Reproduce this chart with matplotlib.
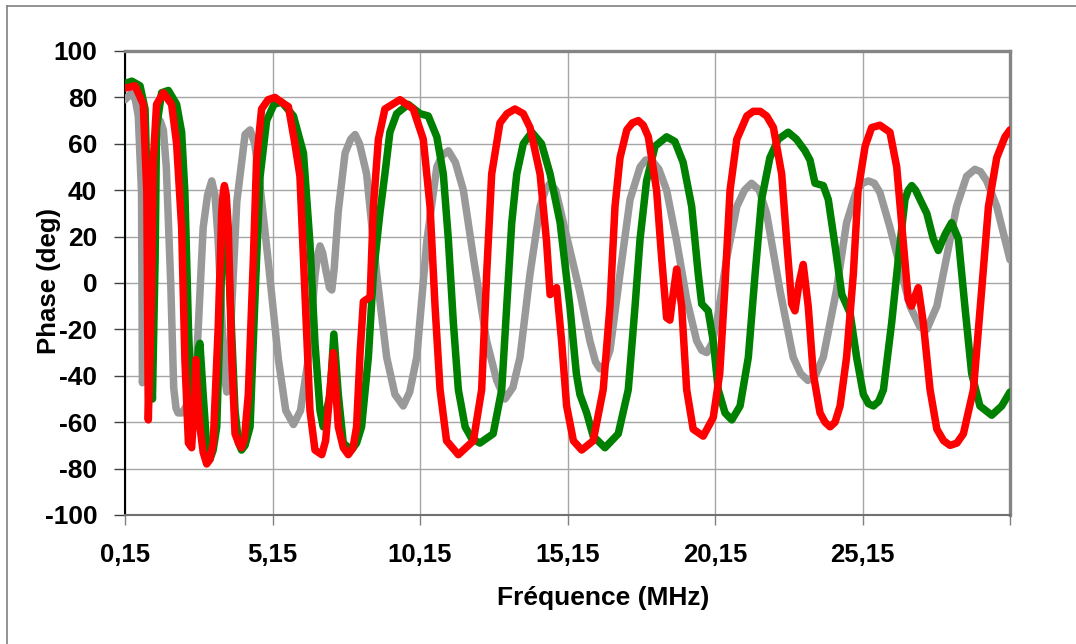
import matplotlib
matplotlib.use("Agg")
import matplotlib.pyplot as plt
from matplotlib.lines import Line2D

# ---- data ----
grey_x = [0.15, 0.38, 0.50, 0.60, 0.71, 0.74, 0.90, 1.10, 1.22, 1.34, 1.45, 1.55, 1.70, 1.80, 1.88,
          1.95, 2.10, 2.35, 2.58, 2.80, 2.95, 3.09, 3.20, 3.30, 3.45, 3.52, 3.60, 3.68, 3.75, 3.94,
          4.22, 4.39, 4.55, 4.70, 5.00, 5.35, 5.60, 5.86, 6.10, 6.36, 6.59, 6.68, 6.76, 6.85, 6.95,
          7.08, 7.16, 7.24, 7.38, 7.61, 7.80, 7.95, 8.10, 8.34, 8.68, 9.02, 9.30, 9.58, 9.80, 10.04,
          10.38, 10.72, 10.90, 11.11, 11.35, 11.62, 11.96, 12.41, 12.75, 13.03, 13.30, 13.54, 13.88,
          14.22, 14.40, 14.56, 14.75, 15.01, 15.57, 15.91, 16.10, 16.25, 16.42, 16.59, 16.93, 17.27,
          17.61, 17.80, 18.00, 18.25, 18.51, 18.85, 19.19, 19.53, 19.70, 19.87, 20.05, 20.21, 20.55,
          20.89, 21.15, 21.39, 21.65, 21.90, 22.35, 22.80, 23.05, 23.30, 23.55, 23.82, 24.27, 24.61,
          24.95, 25.15, 25.35, 25.55, 25.74, 26.08, 26.42, 26.76, 27.10, 27.33, 27.67, 28.00, 28.34,
          28.68, 28.96, 29.15, 29.36, 29.70, 30.15]
grey_y = [79, 82, 79, 72, 39, -43, -20, 40, 66, 70, 66, 50, 0, -45, -54,
          -56, -56, -50, -33, 24, 38, 44, 38, 20, -20, -40, -47, -40, -15, 35,
          64, 66, 60, 45, 10, -33, -55, -61, -55, -33, 3, 12, 16, 13, 6,
          -2, -3, 6, 31, 56, 62, 64, 60, 47, 4, -32, -48, -53, -47, -32,
          18, 50, 55, 57, 52, 40, 11, -25, -42, -50, -45, -32, 4,
          33, 40, 43, 40, 26, -4, -25, -34, -37, -35, -29, 4, 36,
          50, 53, 53, 49, 40, 18, -7, -25, -29, -30, -26, -17, 11,
          33, 40, 43, 40, 30, -3, -32, -39, -42, -40, -32, -3, 26,
          40, 43, 44, 43, 39, 24, 7, -10, -19, -20, -10, 11, 33,
          46, 49, 48, 44, 33, 10]

green_x = [0.15, 0.38, 0.66, 0.83, 0.94, 1.01, 1.08, 1.17, 1.22, 1.39, 1.62, 1.90, 2.07, 2.18, 2.30,
           2.43, 2.56, 2.64, 2.69, 2.80, 2.92, 3.03, 3.14, 3.26, 3.40, 3.48, 3.53, 3.60, 3.71, 3.88,
           4.00, 4.10, 4.22, 4.39, 4.56, 4.73, 4.95, 5.20, 5.46, 5.86, 6.20, 6.42, 6.59, 6.76, 6.87,
           7.10, 7.23, 7.38, 7.55, 7.83, 8.00, 8.17, 8.40, 8.57, 8.79, 8.96, 9.13, 9.36, 9.75, 10.15,
           10.43, 10.72, 10.94, 11.11, 11.28, 11.45, 11.68, 11.90, 12.18, 12.63, 12.92, 13.09, 13.26,
           13.43, 13.65, 13.94, 14.27, 14.56, 14.90, 15.23, 15.45, 15.57, 15.80, 16.02, 16.42, 16.87,
           17.21, 17.44, 17.61, 17.83, 18.12, 18.51, 18.79, 19.07, 19.36, 19.58, 19.70, 19.92, 20.09,
           20.26, 20.49, 20.72, 21.00, 21.28, 21.51, 21.73, 22.01, 22.30, 22.63, 22.91, 23.20, 23.37,
           23.54, 23.82, 23.99, 24.22, 24.45, 24.73, 24.95, 25.18, 25.35, 25.52, 25.70, 25.86, 26.14,
           26.37, 26.59, 26.70, 26.82, 26.95, 27.10, 27.33, 27.55, 27.72, 27.95, 28.17, 28.40, 28.62,
           28.85, 29.13, 29.53, 29.87, 30.15]
green_y = [86, 87, 85, 75, 24, -30, -50, 10, 67, 82, 83, 77, 65, 39, -19,
           -62, -45, -28, -26, -48, -70, -76, -72, -62, -5, 31, 39, 25, -5, -55,
           -69, -72, -70, -62, -5, 46, 70, 77, 78, 72, 56, 17, -26, -55, -62,
           -48, -22, -48, -69, -72, -69, -62, -32, 4, 30, 47, 65, 73, 77, 73,
           72, 63, 47, 19, -17, -46, -62, -67, -69, -65, -46, -10, 26,
           47, 60, 65, 60, 47, 26, -10, -39, -48, -56, -66, -71, -65,
           -46, -10, 19, 44, 59, 63, 61, 52, 33, 4, -9, -12, -25,
           -46, -56, -59, -53, -32, 4, 36, 54, 62, 65, 62, 57, 53,
           43, 42, 36, 16, -5, -13, -32, -48, -52, -53, -51, -46, -17,
           11, 36, 40, 42, 40, 36, 30, 19, 14, 21, 26, 19, -10,
           -39, -53, -57, -53, -47]

red_x = [0.15, 0.49, 0.77, 0.89, 0.94, 1.00, 1.05, 1.11, 1.22, 1.45, 1.73, 1.90, 2.07, 2.18, 2.30,
         2.41, 2.48, 2.55, 2.62, 2.69, 2.80, 2.92, 3.03, 3.14, 3.31, 3.43, 3.48, 3.52, 3.58, 3.65,
         3.77, 3.88, 4.00, 4.10, 4.20, 4.33, 4.50, 4.61, 4.78, 5.00, 5.23, 5.45, 5.69, 5.91, 6.08,
         6.25, 6.42, 6.59, 6.82, 6.95, 7.04, 7.21, 7.38, 7.55, 7.72, 7.88, 8.00, 8.12, 8.23, 8.46,
         8.57, 8.74, 8.96, 9.47, 9.92, 10.26, 10.49, 10.66, 10.83, 11.05, 11.45, 11.96, 12.24, 12.41,
         12.58, 12.86, 13.10, 13.37, 13.65, 13.88, 14.22, 14.44, 14.56, 14.78, 14.95, 15.12, 15.35,
         15.63, 16.02, 16.36, 16.59, 16.76, 16.93, 17.16, 17.35, 17.55, 17.72, 17.89, 18.17, 18.34,
         18.51, 18.62, 18.73, 18.85, 19.02, 19.19, 19.41, 19.75, 20.09, 20.31, 20.48, 20.66, 20.89,
         21.23, 21.45, 21.68, 21.90, 22.13, 22.41, 22.58, 22.75, 22.86, 23.00, 23.14, 23.31, 23.48,
         23.71, 23.88, 24.05, 24.22, 24.39, 24.61, 24.84, 25.00, 25.24, 25.46, 25.74, 26.08, 26.31,
         26.53, 26.70, 26.81, 26.92, 27.04, 27.21, 27.44, 27.67, 27.90, 28.12, 28.35, 28.57, 28.91,
         29.19, 29.42, 29.70, 29.98, 30.15]
red_y = [84, 85, 77, 39, -59, -30, -5, 53, 77, 82, 77, 60, 24, -33, -69,
         -71, -55, -33, -50, -62, -73, -78, -76, -69, -19, 31, 39, 42, 38, 24,
         -33, -65, -69, -71, -67, -48, 10, 53, 75, 79, 80, 78, 76, 60, 46,
         -5, -55, -72, -74, -68, -55, -30, -62, -71, -74, -71, -62, -30, -8, -6,
         33, 62, 75, 79, 75, 62, 33, -10, -46, -68, -74, -68, -46, 4,
         47, 69, 73, 75, 73, 67, 47, 18, -5, -2, -25, -53, -68,
         -72, -68, -46, -10, 33, 54, 66, 69, 70, 68, 63, 40, 11,
         -15, -16, -5, 6, -10, -46, -63, -66, -58, -39, -3, 40, 62,
         72, 74, 74, 72, 67, 47, 18, -9, -12, 0, 8, -10, -39,
         -56, -60, -62, -60, -53, -32, 4, 40, 59, 67, 68, 65, 50,
         18, -7, -10, -6, -2, -17, -46, -63, -68, -70, -69, -65, -46,
         -3, 33, 54, 63, 66]

y_ticks = [-100, -80, -60, -40, -20, 0, 20, 40, 60, 80, 100]
x_ticks = [0.15, 5.15, 10.15, 15.15, 20.15, 25.15, 30.15]
x_tick_labels = ["0,15", "5,15", "10,15", "15,15", "20,15", "25,15", ""]

assert len(grey_x) == len(grey_y)
assert len(green_x) == len(green_y)
assert len(red_x) == len(red_y)

# ---- figure ----
W, H = 1076, 644
fig = plt.figure(figsize=(W / 100, H / 100), dpi=100)
fig.patch.set_facecolor("white")

# outer chart-area frame (left and top edges visible)
fig.add_artist(Line2D([7 / W, 7 / W], [0, 1 - 6 / H], transform=fig.transFigure,
                      color="#808080", lw=1.2))
fig.add_artist(Line2D([7 / W, 1.0], [1 - 6 / H, 1 - 6 / H], transform=fig.transFigure,
                      color="#808080", lw=1.2))

left, right, top, bottom = 125, 1010, 51, 515
ax = fig.add_axes([left / W, 1 - bottom / H, (right - left) / W, (bottom - top) / H])

lw = 5.4
style = dict(lw=lw, solid_joinstyle="round", solid_capstyle="round")
ax.plot(grey_x, grey_y, color="#999999", zorder=3, **style)
ax.plot(green_x, green_y, color="#008000", zorder=4, **style)
ax.plot(red_x, red_y, color="#FF0000", zorder=5, **style)

ax.set_xlim(0.15, 30.15)
ax.set_ylim(-100, 100)
ax.set_xticks(x_ticks)
ax.set_xticklabels(x_tick_labels)
ax.set_yticks(y_ticks)
ax.set_yticklabels([str(v) for v in y_ticks])

ax.grid(True, color="#A6A6A6", lw=1.0, zorder=0)
ax.set_axisbelow(True)

font = ["Liberation Sans", "DejaVu Sans"]
for lab in ax.get_xticklabels() + ax.get_yticklabels():
    lab.set_fontfamily(font)
    lab.set_fontweight("bold")
for lab in ax.get_xticklabels():
    lab.set_fontsize(18.5)
for lab in ax.get_yticklabels():
    lab.set_fontsize(19)

ax.tick_params(axis="y", direction="out", length=8, width=1, color="#404040", pad=12)
ax.tick_params(axis="x", direction="out", length=7, width=1, color="#808080", pad=13)

ax.spines["left"].set_color("black")
ax.spines["left"].set_linewidth(1.5)
ax.spines["bottom"].set_color("#707070")
ax.spines["bottom"].set_linewidth(1.5)
for s in ("top", "right"):
    ax.spines[s].set_color("#858585")
    ax.spines[s].set_linewidth(2.4)

fig.text(603 / W, 1 - 598 / H, "Fréquence (MHz)", family=font, weight="bold",
         fontsize=19, ha="center", va="center")
fig.text(49 / W, 1 - 281 / H, "Phase (deg)", family=font, weight="bold",
         fontsize=18.5, ha="center", va="center", rotation=90)

fig.savefig("out.png", dpi=100, facecolor="white")
